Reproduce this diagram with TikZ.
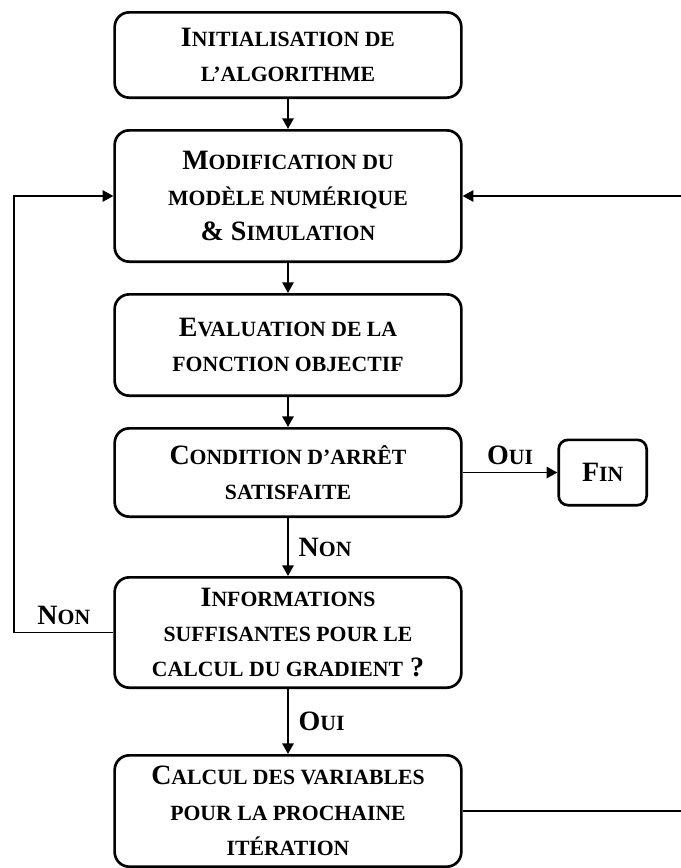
\documentclass[tikz,border=0pt]{standalone}
\usepackage{fontspec}
\setmainfont{Liberation Serif}
\usetikzlibrary{positioning}
\usetikzlibrary{arrows.meta}

\newcommand{\petitescap}[1]{{\fontsize{16.3pt}{26.5pt}\selectfont\MakeUppercase{#1}}}

\begin{document}
\begin{tikzpicture}[
            block/.style={
                draw,
                line width=2pt,
                rounded corners=11pt,
                align=center,
                minimum width=260pt,
                font=\bfseries\fontsize{21pt}{26.5pt}\selectfont
            },
            fleche/.style={-{Triangle[length=8pt,width=8.5pt]}, line width=1.3pt},
            etiquette/.style={font=\bfseries\fontsize{21pt}{26.5pt}\selectfont}
        ]

        \path[use as bounding box] (-216pt,41.25pt) rectangle (294.75pt,-609.75pt);

        \node[block, minimum height=64pt] (init) at (0,0)
            {I\petitescap{nitialisation de}\\
            \petitescap{l’algorithme}};

        \node[block, minimum height=98.5pt, below = 22.5pt of init] (modif)
            {M\petitescap{odification du}\\
            \petitescap{modèle numérique}\\
            \& S\petitescap{imulation}};

        \node[block, minimum height=76pt, below = 22.5pt of modif] (eval)
            {E\petitescap{valuation de la}\\
            \petitescap{fonction objectif}};

        \node[block, minimum height=66.25pt, below = 22.5pt of eval] (cond)
            {C\petitescap{ondition d’arrêt}\\
            \petitescap{satisfaite}};

        \node[block, minimum width=66pt, minimum height=49pt, rounded corners=7pt,
            right = 71pt of cond] (fin)
            {F\petitescap{in}};

        \node[block, minimum height=82.75pt, below = 43.5pt of cond] (info)
            {I\petitescap{nformations}\\
            \petitescap{suffisantes pour le}\\
            \petitescap{calcul du gradient} ?};

        \node[block, minimum height=83.5pt, below = 48.75pt of info] (calc)
            {C\petitescap{alcul des variables}\\
            \petitescap{pour la prochaine}\\
            \petitescap{itération}};

        \coordinate (retour droite) at (320pt,0);

        \draw[fleche] (init) -- (modif);
        \draw[fleche] (modif) -- (eval);
        \draw[fleche] (eval) -- (cond);
        \draw[fleche] (cond) -- node[etiquette, above=2pt] {O\petitescap{ui}} (fin);
        \draw[fleche] (cond) -- node[etiquette, right=4pt] {N\petitescap{on}} (info);
        \draw[fleche] (info) -- node[etiquette, right=4pt] {O\petitescap{ui}} (calc);
        \draw[fleche] (info.west) -- node[etiquette, above=2pt] {N\petitescap{on}} ++(-74.25pt,0) |- (modif.west);
        \draw[fleche] (calc.east) -| (retour droite) |- (modif.east);

    \end{tikzpicture}
\end{document}
